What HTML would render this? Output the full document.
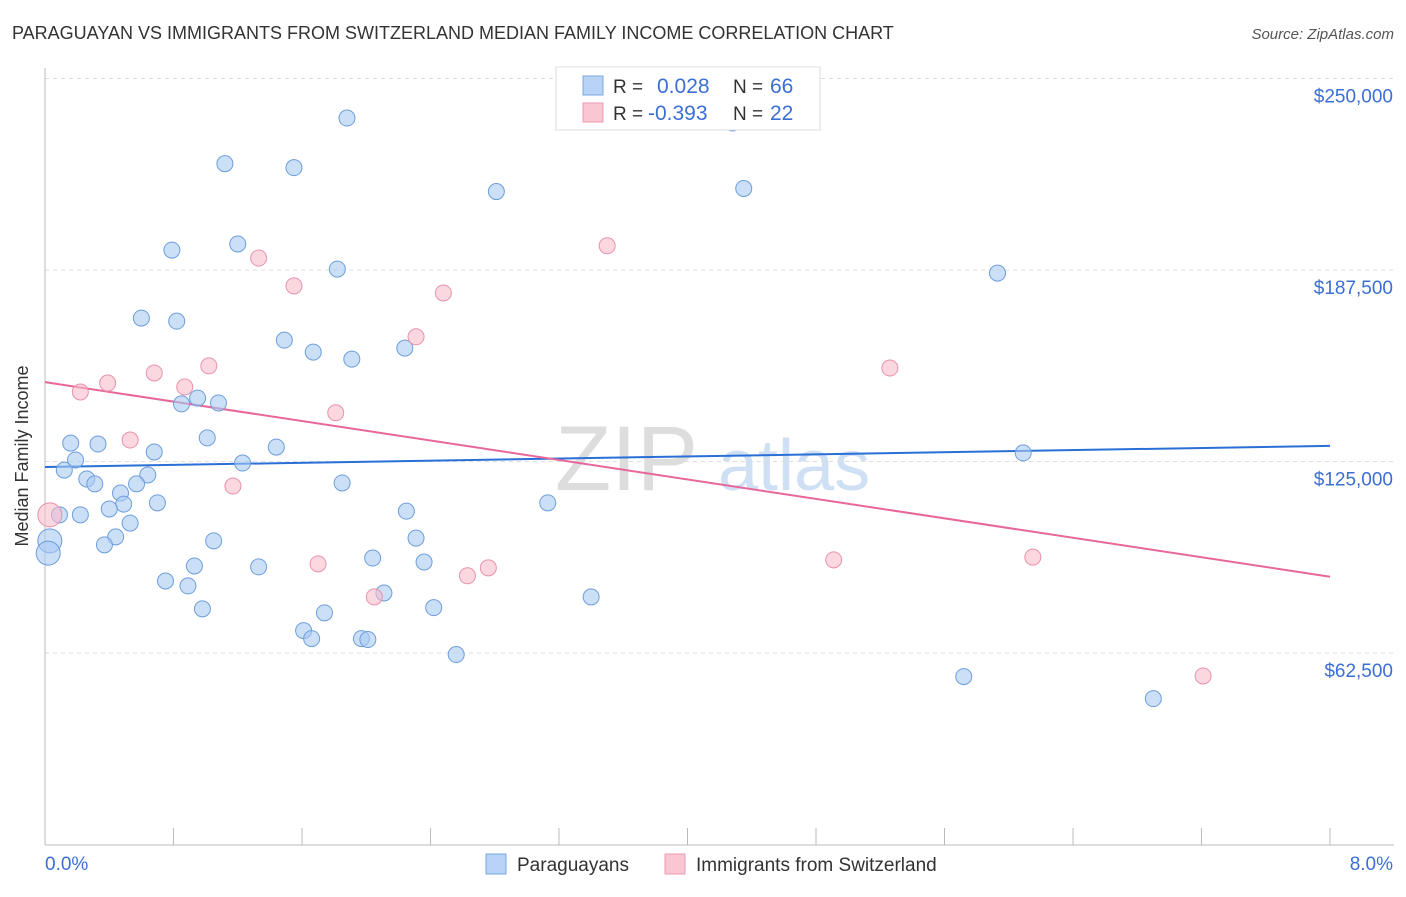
<!DOCTYPE html>
<html><head><meta charset="utf-8"><style>
body{margin:0;background:#fff;font-family:"Liberation Sans",sans-serif;}
svg text{font-family:"Liberation Sans",sans-serif;}
</style></head><body>
<svg id="chart" width="1406" height="892" xmlns="http://www.w3.org/2000/svg">
<text x="12" y="39" font-size="18" fill="#333">PARAGUAYAN VS IMMIGRANTS FROM SWITZERLAND MEDIAN FAMILY INCOME CORRELATION CHART</text>
<text x="1394" y="39" font-size="15" fill="#555" text-anchor="end" font-style="italic">Source: ZipAtlas.com</text>
<text x="28" y="456" font-size="18" fill="#333" text-anchor="middle" transform="rotate(-90 28 456)">Median Family Income</text>
<text x="555" y="490" font-size="92" fill="#ddd" font-family="Liberation Serif">ZIP</text>
<text x="718" y="490" font-size="72" fill="#cfe0f5">atlas</text>
<g id="grid"></g><g id="axes"></g><g id="lines"></g><g id="pts"></g>
<g>
<rect x="556" y="67" width="264" height="63" fill="#fff" stroke="#ddd"/>
<rect x="583" y="76" width="20" height="19" fill="#b8d3f5" stroke="#7aa8e0"/>
<text x="613" y="93" font-size="19" fill="#333">R = </text><text x="657" y="93" font-size="21" fill="#3b6fd4">0.028</text>
<text x="733" y="93" font-size="19" fill="#333">N = </text><text x="770" y="93" font-size="21" fill="#3b6fd4">66</text>
<rect x="583" y="103" width="20" height="19" fill="#fbc6d4" stroke="#eb9ab2"/>
<text x="613" y="120" font-size="19" fill="#333">R = </text><text x="648" y="120" font-size="21" fill="#3b6fd4">-0.393</text>
<text x="733" y="120" font-size="19" fill="#333">N = </text><text x="770" y="120" font-size="21" fill="#3b6fd4">22</text>
</g>
<g>
<rect x="486" y="854" width="20" height="20" fill="#b8d3f5" stroke="#7aa8e0"/>
<text x="517" y="871" font-size="19" fill="#333">Paraguayans</text>
<rect x="665" y="854" width="20" height="20" fill="#fbc6d4" stroke="#eb9ab2"/>
<text x="696" y="871" font-size="19" fill="#333">Immigrants from Switzerland</text>
</g>
</svg>
<script>
const blueX=[1.88,1.12,1.55,2.81,4.35,1.20,0.79,1.82,5.93,0.60,0.82,1.49,1.67,1.91,2.24,0.95,0.85,1.08,1.01,1.44,0.16,0.33,0.68,0.19,1.23,0.12,6.09,0.64,0.26,0.31,0.57,0.47,0.49,0.70,1.85,3.13,0.09,0.22,0.40,0.53,2.25,0.44,0.37,1.05,2.31,0.03,0.02,2.04,0.93,1.33,2.36,0.75,0.89,2.11,3.40,0.98,2.42,1.74,1.61,1.66,1.97,2.01,2.56,5.72,6.90,4.28];
const blueY=[237100,222200,220900,213100,214100,196000,194000,187800,186500,171800,170800,164600,160700,158400,162000,145700,143800,144100,132700,129700,131000,130700,128100,125500,124500,122200,127800,120600,119300,117700,117700,114700,111100,111500,118000,111500,107600,107600,109500,104900,108800,100400,97800,99100,100000,99100,95100,93500,90900,90600,92200,86000,84400,82100,80800,76900,77300,75600,69800,67200,67200,66900,62000,54800,47600,235500];
const pinkX=[0.39,0.22,0.68,0.87,1.02,1.33,1.55,2.48,3.50,2.31,1.81,0.53,1.17,0.03,1.70,2.63,2.76,2.05,4.91,5.26,6.15,7.21];
const pinkY=[150600,147700,153900,149300,156200,191400,182300,180000,195400,165700,140900,132000,117000,107600,91600,87700,90300,80800,92900,155500,93800,55000];
const blueTrend=[123200,130100];
const pinkTrend=[150900,87400];
const yTicks=[62500,125000,187500,250000];
const yTickLabels=["$62,500","$125,000","$187,500","$250,000"];
const xTicks=[0,0.8,1.6,2.4,3.2,4,4.8,5.6,6.4,7.2,8];
const NS="http://www.w3.org/2000/svg";
const sx=v=>45+v/8*1285;
const sy=v=>844.5-v/62500*191.5;
function mk(t,a,p){const e=document.createElementNS(NS,t);for(const k in a)e.setAttribute(k,a[k]);p.appendChild(e);return e;}
const grid=document.getElementById('grid'),axes=document.getElementById('axes'),lines=document.getElementById('lines'),pts=document.getElementById('pts');
yTicks.forEach((v,i)=>{
 const l=mk('line',{x1:45,x2:1394,y1:sy(v),y2:sy(v),stroke:'#ddd','stroke-dasharray':'4,4'},grid);
 
 
 const t=mk('text',{x:1393,y:sy(v)+24,'font-size':19,fill:'#3b6fd4','text-anchor':'end'},axes);
 t.textContent=yTickLabels[i];
 
 
});
const ax=mk('line',{x1:45,x2:1394,y1:845,y2:845,stroke:'#bbb'},axes);


const ay=mk('line',{x1:45,x2:45,y1:68,y2:845,stroke:'#bbb'},axes);


xTicks.forEach(v=>{
 const l=mk('line',{x1:sx(v),x2:sx(v),y1:828,y2:845,stroke:'#bbb'},axes);
 
 
});
const x0=mk('text',{x:45,y:870,'font-size':19,fill:'#3b6fd4'},axes);x0.textContent='0.0%';


const x1=mk('text',{x:1393,y:870,'font-size':19,fill:'#3b6fd4','text-anchor':'end'},axes);x1.textContent='8.0%';


function dots(X,Y,fill,stroke,name){X.forEach((x,i)=>{
 const big=x<0.05;
 const c=mk('circle',{cx:sx(x),cy:sy(Y[i]),r:big?12:8,fill:fill,'fill-opacity':0.6,stroke:stroke,'stroke-width':1},pts);
 
 
});}
dots(blueX,blueY,'#a9c9f2','#6d9edb','paraguayan-point');
dots(pinkX,pinkY,'#f9bccc','#e892ac','swiss-point');
const bl=mk('line',{x1:sx(0),y1:sy(blueTrend[0]),x2:sx(8),y2:sy(blueTrend[1]),stroke:'#2a6fd6','stroke-width':2},lines);


const pl=mk('line',{x1:sx(0),y1:sy(pinkTrend[0]),x2:sx(8),y2:sy(pinkTrend[1]),stroke:'#e8679a','stroke-width':2},lines);


</script>
</body></html>
